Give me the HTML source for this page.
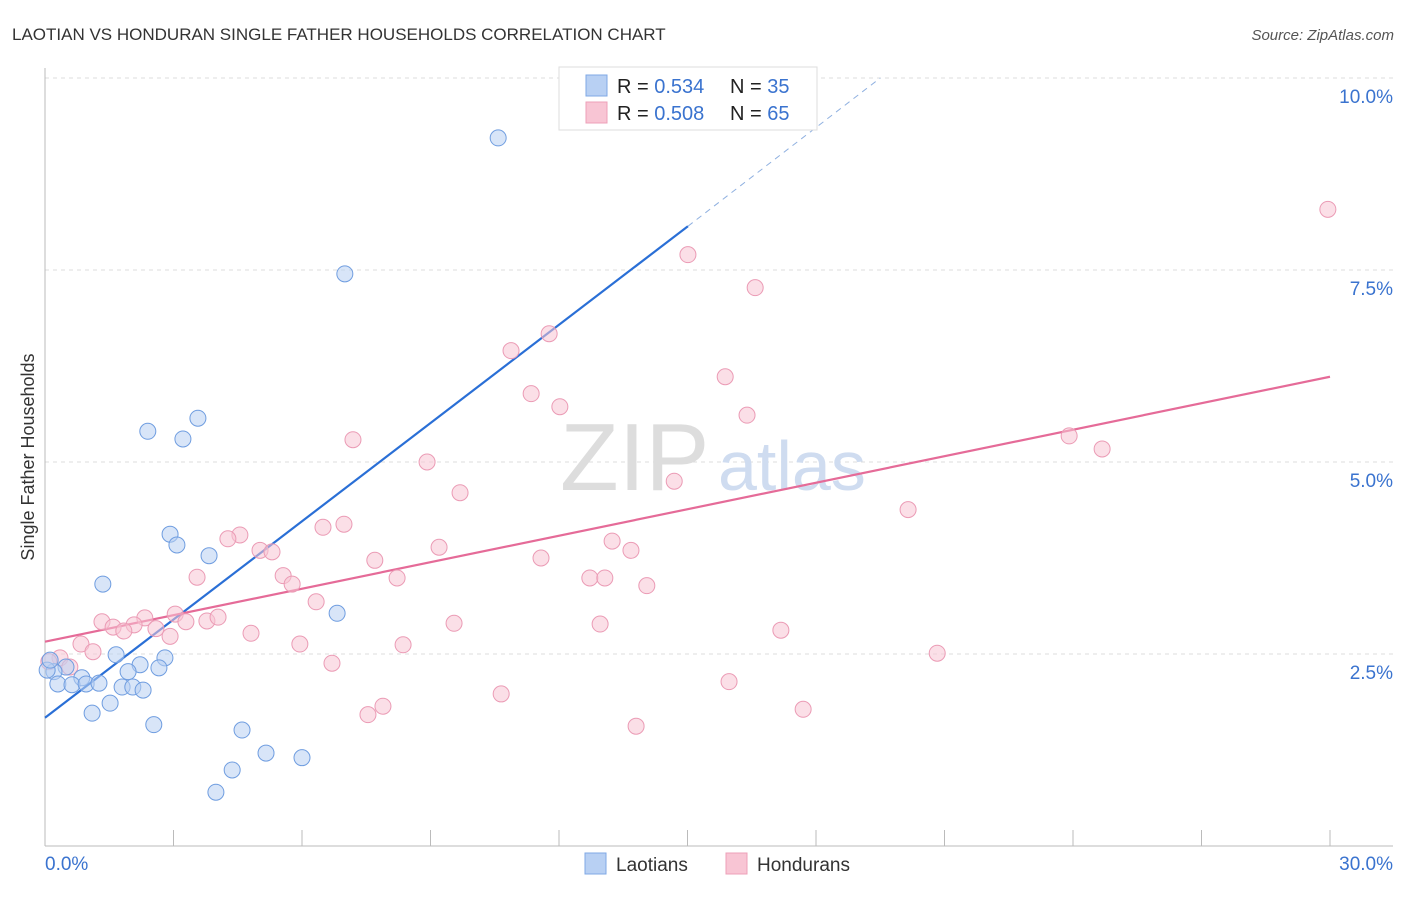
<!DOCTYPE html>
<html><head><meta charset="utf-8"><style>
body{margin:0;background:#fff;font-family:"Liberation Sans",sans-serif;}
svg text{font-family:"Liberation Sans",sans-serif;}
</style></head><body>
<svg id="c" width="1406" height="892">
<text x="12" y="40" font-size="17" fill="#333">LAOTIAN VS HONDURAN SINGLE FATHER HOUSEHOLDS CORRELATION CHART</text>
<text x="1394" y="40" font-size="15" fill="#555" text-anchor="end" font-style="italic">Source: ZipAtlas.com</text>
<text x="34" y="457" font-size="18" fill="#333" text-anchor="middle" transform="rotate(-90 34 457)">Single Father Households</text>
<g id="grid"></g>
<text x="560" y="490" font-size="96" fill="#ddd" font-family="Liberation Serif">ZIP</text>
<text x="718" y="490" font-size="70" fill="#cfdcf0">atlas</text>
<g id="lines"></g>
<g id="pts"></g>
<g>
<rect x="559" y="67" width="258" height="63" fill="#fff" stroke="#ddd"/>
<rect x="586" y="75" width="21" height="21" fill="#b8d0f3" stroke="#7fa8e6"/>
<rect x="586" y="102" width="21" height="21" fill="#f8c5d4" stroke="#eea0b8"/>
<text x="617" y="93" font-size="20" fill="#222">R = <tspan fill="#3a73cf">0.534</tspan></text>
<text x="730" y="93" font-size="20" fill="#222">N = <tspan fill="#3a73cf">35</tspan></text>
<text x="617" y="120" font-size="20" fill="#222">R = <tspan fill="#3a73cf">0.508</tspan></text>
<text x="730" y="120" font-size="20" fill="#222">N = <tspan fill="#3a73cf">65</tspan></text>
</g>
<g>
<rect x="585" y="853" width="21" height="21" fill="#b8d0f3" stroke="#7fa8e6"/>
<text x="616" y="871" font-size="19" fill="#333">Laotians</text>
<rect x="726" y="853" width="21" height="21" fill="#f8c5d4" stroke="#eea0b8"/>
<text x="757" y="871" font-size="19" fill="#333">Hondurans</text>
</g>
</svg>
<script>
const yTicks=[2.5,5.0,7.5,10.0];
const yTickLabels=["2.5%","5.0%","7.5%","10.0%"];
const xTickVals=[0,3,6,9,12,15,18,21,24,27,30];
const blueX=[10.58,7.00,2.40,3.57,3.22,2.92,3.08,3.83,1.35,6.82,1.66,2.80,2.22,2.66,1.94,0.49,0.21,0.86,0.30,0.63,0.96,1.26,1.80,2.05,2.29,1.52,1.10,2.54,4.60,5.16,6.00,4.37,3.99,0.05,0.12];
const blueY=[9.22,7.45,5.40,5.57,5.30,4.06,3.92,3.78,3.41,3.03,2.49,2.45,2.36,2.32,2.27,2.33,2.27,2.19,2.11,2.10,2.11,2.12,2.07,2.07,2.03,1.86,1.73,1.58,1.51,1.21,1.15,0.99,0.70,2.29,2.42];
const pinkX=[29.95,15.01,16.58,11.77,10.88,11.35,12.02,15.88,16.39,7.19,8.92,9.69,14.69,23.91,24.68,20.15,6.98,6.49,4.55,4.27,5.02,5.30,7.70,9.20,11.58,13.24,13.68,3.55,5.56,5.77,8.22,12.72,13.07,14.05,6.33,3.04,2.33,1.33,1.59,2.08,1.84,2.59,3.29,3.78,4.04,2.92,4.81,9.55,12.96,17.18,5.95,8.36,0.84,1.12,0.35,0.09,0.58,6.70,20.83,10.65,15.97,7.89,7.54,17.70,13.80];
const pinkY=[8.29,7.70,7.27,6.67,6.45,5.89,5.72,6.11,5.61,5.29,5.00,4.60,4.75,5.34,5.17,4.38,4.19,4.15,4.05,4.00,3.85,3.83,3.72,3.89,3.75,3.97,3.85,3.50,3.52,3.41,3.49,3.49,3.49,3.39,3.18,3.02,2.97,2.92,2.85,2.88,2.80,2.83,2.92,2.93,2.98,2.73,2.77,2.90,2.89,2.81,2.63,2.62,2.63,2.53,2.45,2.40,2.33,2.38,2.51,1.98,2.14,1.82,1.71,1.78,1.56];
const blueTrend=[[0,1.67],[15.01,8.07]];
const blueTrendDash=[[15.01,8.07],[19.5,10.0]];
const pinkTrend=[[0,2.66],[30,6.11]];
const X=v=>45+v/30*1285, Y=v=>846-v/10*768;
const NS="http://www.w3.org/2000/svg";
function mk(t,a,p){const e=document.createElementNS(NS,t);for(const k in a)e.setAttribute(k,a[k]);p.appendChild(e);return e;}
const grid=document.getElementById('grid');
yTicks.forEach((v,i)=>{
 const l=mk('line',{x1:45,x2:1393,y1:Y(v),y2:Y(v),stroke:'#ddd','stroke-dasharray':'4,4'},grid);
 
 
 const t=mk('text',{x:1393,y:Y(v)+25,'font-size':19,fill:'#3a73cf','text-anchor':'end'},grid);
 t.textContent=yTickLabels[i];
 
 
});
mk('line',{x1:45,x2:45,y1:68,y2:846,stroke:'#bbb'},grid);
mk('line',{x1:45,x2:1393,y1:846,y2:846,stroke:'#bbb'},grid);
xTickVals.forEach(v=>{
 const l=mk('line',{x1:X(v),x2:X(v),y1:830,y2:846,stroke:'#bbb'},grid);
 
 
});
const tx0=mk('text',{x:45,y:870,'font-size':19,fill:'#3a73cf'},grid);tx0.textContent='0.0%';


const tx1=mk('text',{x:1393,y:870,'font-size':19,fill:'#3a73cf','text-anchor':'end'},grid);tx1.textContent='30.0%';


const pts=document.getElementById('pts');
function dots(xs,ys,fill,stroke,name){xs.forEach((x,i)=>{
 const c=mk('circle',{cx:X(x),cy:Y(ys[i]),r:8,fill:fill,'fill-opacity':0.55,stroke:stroke,'stroke-width':1},pts);
 
 
});}
dots(pinkX,pinkY,'#f8c5d4','#eb9bb5','honduran-point');
dots(blueX,blueY,'#b8d0f3','#6f9de0','laotian-point');
const lines=document.getElementById('lines');
function ln(p,st,w,dash,name){const l=mk('line',{x1:X(p[0][0]),y1:Y(p[0][1]),x2:X(p[1][0]),y2:Y(p[1][1]),stroke:st,'stroke-width':w},lines);
 if(dash)l.setAttribute('stroke-dasharray',dash);
 
 }
ln(blueTrend,'#2a6fd6',2.2,null,'laotian-trendline');
ln(blueTrendDash,'#8fb0e0',1,'6,5','laotian-trendline-extension');
ln(pinkTrend,'#e56b98',2.2,null,'honduran-trendline');
</script>
</body></html>
